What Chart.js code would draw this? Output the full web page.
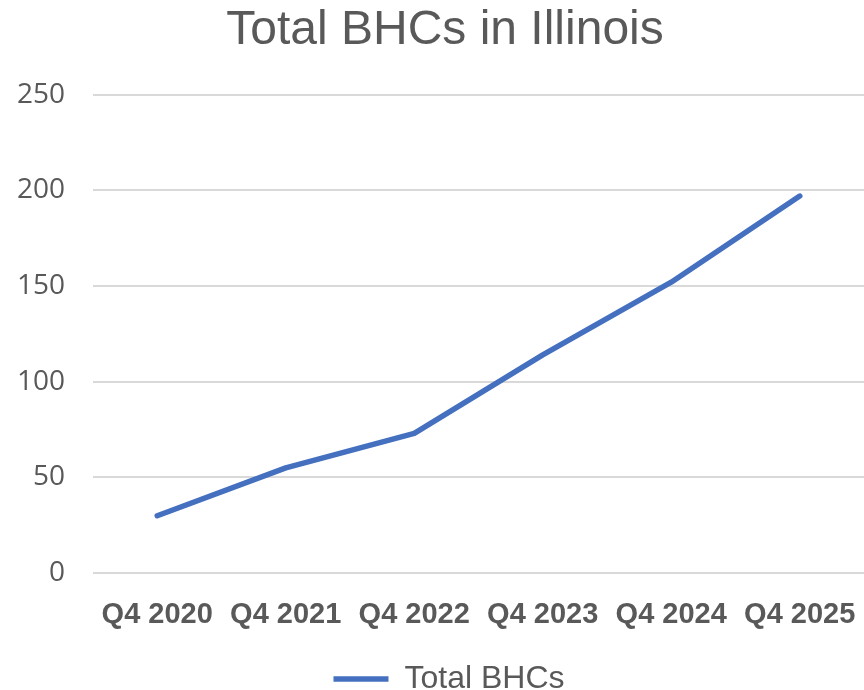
<!DOCTYPE html>
<html>
<head>
<meta charset="utf-8">
<script src="https://cdn.jsdelivr.net/npm/chart.js@4"></script>
<style>
  html, body { margin: 0; padding: 0; background: #fff; }
  #wrap { width: 864px; height: 690px; }
</style>
</head>
<body>
<div id="wrap"><canvas id="myChart" width="864" height="690"></canvas></div>
<script>
const quarters = ["Q4 2020", "Q4 2021", "Q4 2022", "Q4 2023", "Q4 2024", "Q4 2025"];
const totalBHCs = [30, 55, 73, 114, 152, 197];
const yTicks = [0, 50, 100, 150, 200, 250];

const textGray = "#595959";
const gridGray = "#d9d9d9";
const lineBlue = "#4470bf";

// nudge title and legend like in the original (a bit right, legend lower)
const boxShift = {
  id: "boxShift",
  afterLayout(chart) {
    chart.titleBlock.left += 26;
    chart.legend.left += 34;
    chart.legend.top += 15;
    chart.legend.bottom += 15;
  },
};

window.onload = function () {
  const ctx = document.getElementById("myChart");
  new Chart(ctx, {
    type: "line",
    data: {
      labels: quarters,
      datasets: [
        {
          label: "Total BHCs",
          data: totalBHCs,
          borderColor: lineBlue,
          backgroundColor: lineBlue,
          borderWidth: 5.5,
          borderCapStyle: "round",
          borderJoinStyle: "round",
          pointRadius: 0,
          tension: 0,
        },
      ],
    },
    plugins: [boxShift],
    options: {
      responsive: false,
      animation: false,
      layout: { padding: { left: 0, right: 0, top: 0, bottom: 0 } },
      plugins: {
        title: {
          display: true,
          text: "Total BHCs in Illinois",
          color: textGray,
          font: { family: "Liberation Sans", size: 48, weight: "normal" },
          padding: { top: 2, bottom: 35 },
        },
        legend: {
          position: "bottom",
          labels: {
            color: textGray,
            font: { family: "Liberation Sans", size: 32 },
            usePointStyle: true,
            pointStyle: "line",
            pointStyleWidth: 55,
            padding: 0,
          },
        },
        tooltip: { enabled: false },
      },
      scales: {
        x: {
          offset: true,
          grid: { display: false },
          border: { display: false },
          afterFit: function (scale) {
            scale.paddingLeft = 0;
            scale.paddingRight = 0;
          },
          ticks: {
            color: textGray,
            font: { family: "Liberation Sans", size: 29, weight: "bold" },
            padding: 16,
            maxRotation: 0,
            autoSkip: false,
          },
        },
        y: {
          min: 0,
          max: 250,
          afterBuildTicks: function (scale) {
            scale.ticks = yTicks.map((v) => ({ value: v }));
          },
          afterFit: function (scale) {
            scale.width = 93;
          },
          grid: { color: gridGray, lineWidth: 2, drawTicks: false },
          border: { display: false },
          ticks: {
            color: textGray,
            font: { family: "Open Sans", size: 28 },
            padding: 28,
          },
        },
      },
    },
  });
};
</script>
</body>
</html>
